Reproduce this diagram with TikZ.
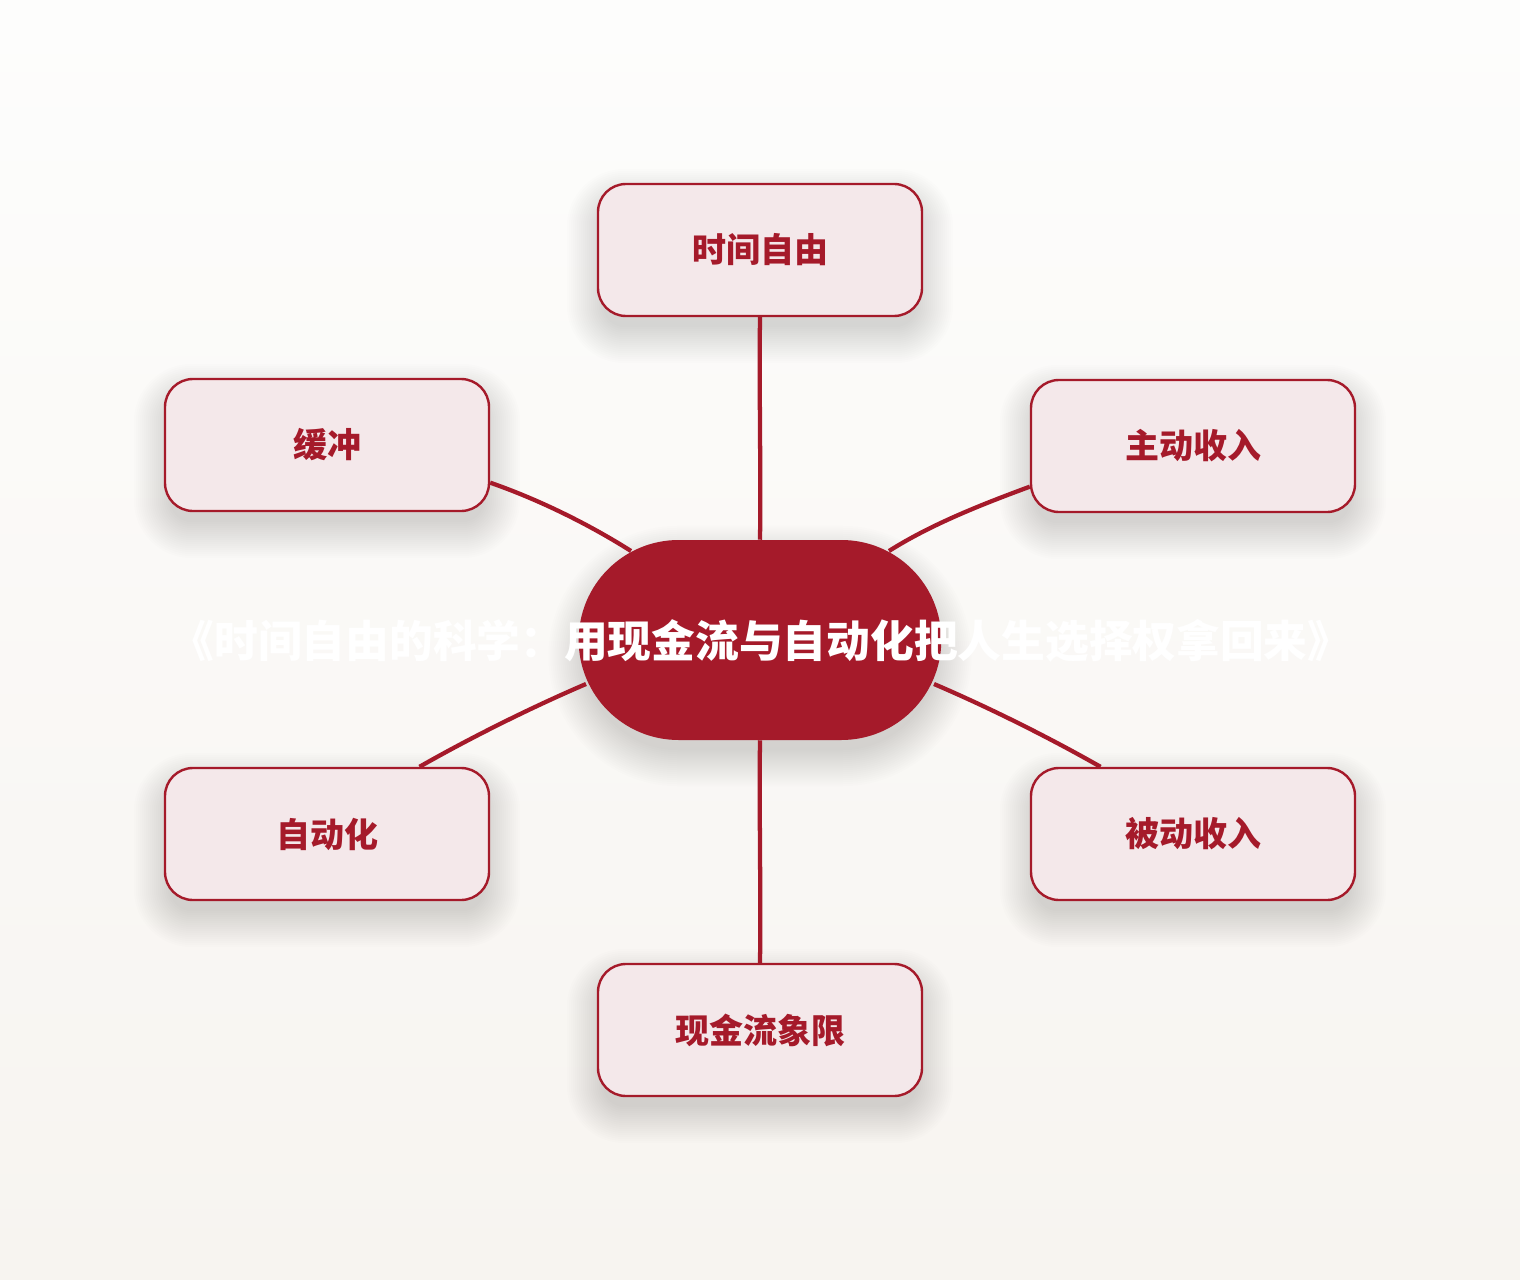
\documentclass[tikz,border=0pt]{standalone}
\usepackage{fontspec}
\newfontfamily\cjk{Noto Sans CJK SC}
\usetikzlibrary{calc}
\definecolor{dred}{RGB}{165,26,42}
\definecolor{pinkfill}{RGB}{244,232,234}
\definecolor{bgtop}{RGB}{253,253,252}
\definecolor{bgbot}{RGB}{247,244,240}
\pgfdeclarelayer{bg}
\pgfsetlayers{bg,main}
\tikzset{
  sat/.style={draw=dred, line width=1.8pt, fill=pinkfill, rounded corners=21pt,
    minimum width=243pt, minimum height=99pt, inner sep=0pt,
    font=\cjk\bfseries\fontsize{25.5pt}{30pt}\selectfont, text=dred},
  hub/.style={fill=dred, rounded corners=75pt, minimum width=272pt, minimum height=150pt, inner sep=0pt},
  hubtext/.style={font=\cjk\bfseries\fontsize{32.8pt}{38pt}\selectfont, text=white, inner sep=0pt},
  link/.style={draw=dred, line width=3.2pt},
  shadowstep/.style={fill=black, opacity=0.0085}
}
\newcommand\mkshadow[2]{%
  \foreach \s in {-6,-4,...,30} {
    \fill[shadowstep, rounded corners={#2+0.75pt*\s}]
      ($(#1.north west)+(-\s,-\s+16)$) rectangle ($(#1.south east)+(\s,\s+16)$);
  }}
\newcommand\lbl[1]{\raisebox{-2.2pt}{#1}}
\begin{document}
\begin{tikzpicture}[x=0.75pt,y=-0.75pt]
\useasboundingbox (0,0) rectangle (1520,1280);
% hub
\node[hub] (c) at (760,640) {};
% satellites
\node[sat] (t) at (760,250) {\lbl{时间自由}};
\node[sat] (b) at (327,445) {\lbl{缓冲}};
\node[sat] (a) at (1193,446) {\lbl{主动收入}};
\node[sat] (z) at (327,834) {\lbl{自动化}};
\node[sat] (p) at (1193,834) {\lbl{被动收入}};
\node[sat] (x) at (760,1030) {\lbl{现金流象限}};
% background and shadows
\begin{pgfonlayer}{bg}
  \shade[top color=bgtop, bottom color=bgbot] (0,0) rectangle (1520,1280);
  \mkshadow{c}{75pt}
  \mkshadow{t}{21pt}
  \mkshadow{b}{21pt}
  \mkshadow{a}{21pt}
  \mkshadow{z}{21pt}
  \mkshadow{p}{21pt}
  \mkshadow{x}{21pt}
\end{pgfonlayer}
% hub border points
\coordinate (cnw) at (631,551);
\coordinate (cne) at (889,551);
\coordinate (csw) at (586,684);
\coordinate (cse) at (934,684);
% connectors
\draw[link] (t.south) .. controls (759,390) and (761,470) .. (c.north);
\draw[link] (b.-13) .. controls (540,500) and (590,525) .. (cnw);
\draw[link] (a.194) .. controls (980,505) and (930,525) .. (cne);
\draw[link] (z.36) .. controls (470,738) and (530,708) .. (csw);
\draw[link] (p.144) .. controls (1050,738) and (990,708) .. (cse);
\draw[link] (x.north) .. controls (761,890) and (759,810) .. (c.south);
% hub text
\node[hubtext] (ct) at (761,641) {\lbl{《时间自由的科学：用现金流与自动化把人生选择权拿回来》}};
\end{tikzpicture}
\end{document}
